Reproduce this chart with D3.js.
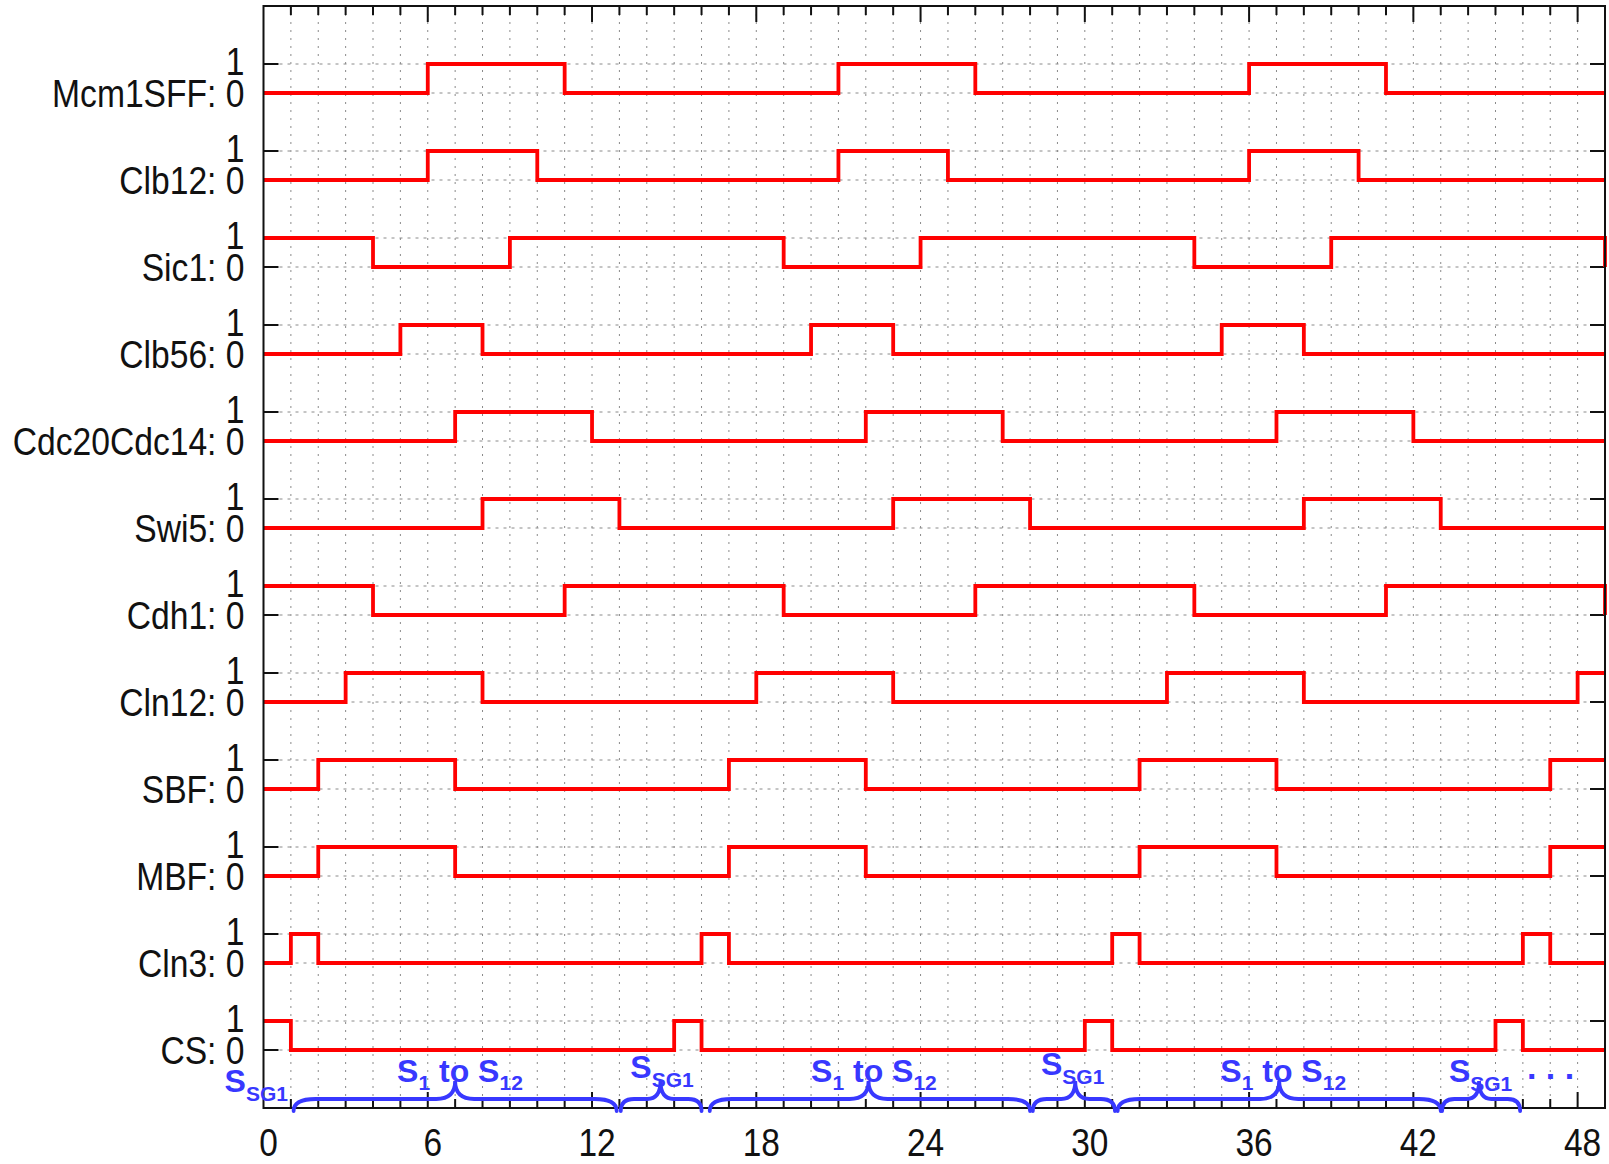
<!DOCTYPE html>
<html>
<head>
<meta charset="utf-8">
<script src="https://cdn.jsdelivr.net/npm/d3@7"></script>
<style>
  html, body { margin: 0; padding: 0; background: #fff; }
  svg { display: block; }
</style>
</head>
<body>
<svg id="chart" width="1609" height="1164"></svg>
<script>
// ---------------- data ----------------
const signalNames = ["Mcm1SFF", "Clb12", "Sic1", "Clb56", "Cdc20Cdc14", "Swi5",
                     "Cdh1", "Cln12", "SBF", "MBF", "Cln3", "CS"];
const timeSteps = d3.range(0, 50);           // t = 0 .. 49
const xTickLabels = [0, 6, 12, 18, 24, 30, 36, 42, 48];
const yTickLevels = ["0", "1"];

const Mcm1SFF = [0,0,0,0,0,0,1,1,1,1, 1,0,0,0,0,0,0,0,0,0, 0,1,1,1,1,1,0,0,0,0, 0,0,0,0,0,0,1,1,1,1, 1,0,0,0,0,0,0,0,0,0];
const Clb12   = [0,0,0,0,0,0,1,1,1,1, 0,0,0,0,0,0,0,0,0,0, 0,1,1,1,1,0,0,0,0,0, 0,0,0,0,0,0,1,1,1,1, 0,0,0,0,0,0,0,0,0,0];
const Sic1    = [1,1,1,1,0,0,0,0,0,1, 1,1,1,1,1,1,1,1,1,0, 0,0,0,0,1,1,1,1,1,1, 1,1,1,1,0,0,0,0,0,1, 1,1,1,1,1,1,1,1,1,0];
const Clb56   = [0,0,0,0,0,1,1,1,0,0, 0,0,0,0,0,0,0,0,0,0, 1,1,1,0,0,0,0,0,0,0, 0,0,0,0,0,1,1,1,0,0, 0,0,0,0,0,0,0,0,0,0];
const Cdc20Cdc14 = [0,0,0,0,0,0,0,1,1,1, 1,1,0,0,0,0,0,0,0,0, 0,0,1,1,1,1,1,0,0,0, 0,0,0,0,0,0,0,1,1,1, 1,1,0,0,0,0,0,0,0,0];
const Swi5    = [0,0,0,0,0,0,0,0,1,1, 1,1,1,0,0,0,0,0,0,0, 0,0,0,1,1,1,1,1,0,0, 0,0,0,0,0,0,0,0,1,1, 1,1,1,0,0,0,0,0,0,0];
const Cdh1    = [1,1,1,1,0,0,0,0,0,0, 0,1,1,1,1,1,1,1,1,0, 0,0,0,0,0,0,1,1,1,1, 1,1,1,1,0,0,0,0,0,0, 0,1,1,1,1,1,1,1,1,0];
const Cln12   = [0,0,0,1,1,1,1,1,0,0, 0,0,0,0,0,0,0,0,1,1, 1,1,1,0,0,0,0,0,0,0, 0,0,0,1,1,1,1,1,0,0, 0,0,0,0,0,0,0,0,1,1];
const SBF     = [0,0,1,1,1,1,1,0,0,0, 0,0,0,0,0,0,0,1,1,1, 1,1,0,0,0,0,0,0,0,0, 0,0,1,1,1,1,1,0,0,0, 0,0,0,0,0,0,0,1,1,1];
const MBF     = [0,0,1,1,1,1,1,0,0,0, 0,0,0,0,0,0,0,1,1,1, 1,1,0,0,0,0,0,0,0,0, 0,0,1,1,1,1,1,0,0,0, 0,0,0,0,0,0,0,1,1,1];
const Cln3    = [0,1,0,0,0,0,0,0,0,0, 0,0,0,0,0,0,1,0,0,0, 0,0,0,0,0,0,0,0,0,0, 0,1,0,0,0,0,0,0,0,0, 0,0,0,0,0,0,1,0,0,0];
const CS      = [1,0,0,0,0,0,0,0,0,0, 0,0,0,0,0,1,0,0,0,0, 0,0,0,0,0,0,0,0,0,0, 1,0,0,0,0,0,0,0,0,0, 0,0,0,0,0,1,0,0,0,0];
const signalValues = [Mcm1SFF, Clb12, Sic1, Clb56, Cdc20Cdc14, Swi5, Cdh1, Cln12, SBF, MBF, Cln3, CS];

// annotation braces: [start, peak, end] in time units
const braceSpans = [[1.1, 7.0, 12.9], [13.05, 14.5, 16.0], [16.3, 22.1, 28.0],
                    [28.1, 29.65, 31.1], [31.2, 37.1, 43.0], [43.05, 44.4, 45.9]];
// annotation labels: kind, left x (time units), baseline (y units)
const stateLabels = [
  {kind: "SG1", t: -1.42, v: -1.45},
  {kind: "S12", t: 4.88, v: -1.1},
  {kind: "SG1", t: 13.4, v: -0.97},
  {kind: "S12", t: 20.0, v: -1.1},
  {kind: "SG1", t: 28.4, v: -0.86},
  {kind: "S12", t: 34.95, v: -1.1},
  {kind: "SG1", t: 43.3, v: -1.1},
  {kind: "dots", t: 46.15, v: -1.0}
];

// ---------------- layout ----------------
const svg = d3.select("#chart");
const L = 263.5, R = 1605, T = 6, B = 1108;
const x = d3.scaleLinear().domain([0, 49]).range([L, R]);
const y = d3.scaleLinear().domain([-2, 36]).range([B, T]);
const nSig = signalNames.length;
const offsetOf = i => (nSig - 1 - i) * 3;

const blackFont = "'Liberation Sans', Arial, sans-serif";
const blue = "#3838ff";

// grid
const gGrid = svg.append("g");
gGrid.selectAll("line.v").data(d3.range(1, 49)).join("line")
  .attr("x1", d => x(d)).attr("x2", d => x(d))
  .attr("y1", T).attr("y2", B)
  .attr("stroke", "#8a8a8a").attr("stroke-width", 1)
  .attr("stroke-dasharray", "2,6");

const levels = [];
signalNames.forEach((n, i) => { levels.push(offsetOf(i)); levels.push(offsetOf(i) + 1); });
gGrid.selectAll("line.h").data(levels).join("line")
  .attr("x1", L).attr("x2", R)
  .attr("y1", d => y(d)).attr("y2", d => y(d))
  .attr("stroke", "#8a8a8a").attr("stroke-width", 1)
  .attr("stroke-dasharray", "3,5");

// ticks
const gTicks = svg.append("g").attr("stroke", "#111").attr("stroke-width", 2);
const minorT = d3.range(1, 49).filter(d => d % 6 !== 0);
const majorT = d3.range(6, 49, 6);
[[minorT, 9], [majorT, 16]].forEach(([arr, len]) => {
  gTicks.selectAll(null).data(arr).join("line")
    .attr("x1", d => x(d)).attr("x2", d => x(d))
    .attr("y1", T).attr("y2", T + len);
  gTicks.selectAll(null).data(arr).join("line")
    .attr("x1", d => x(d)).attr("x2", d => x(d))
    .attr("y1", B).attr("y2", B - len);
});
gTicks.selectAll(null).data(levels).join("line")
  .attr("x1", L).attr("x2", L + 15)
  .attr("y1", d => y(d)).attr("y2", d => y(d));
gTicks.selectAll(null).data(levels).join("line")
  .attr("x1", R).attr("x2", R - 15)
  .attr("y1", d => y(d)).attr("y2", d => y(d));

// signal traces
const line = d3.line().curve(d3.curveStepAfter)
  .x((d, k) => x(timeSteps[k]))
  .y(d => d);
signalValues.forEach((vals, i) => {
  const off = offsetOf(i);
  svg.append("path")
    .attr("d", line(vals.map(v => y(off + v))))
    .attr("fill", "none")
    .attr("stroke", "#ff0000")
    .attr("stroke-width", 3.8)
    .attr("stroke-linejoin", "miter");
});

// frame
svg.append("rect")
  .attr("x", L).attr("y", T).attr("width", R - L).attr("height", B - T)
  .attr("fill", "none").attr("stroke", "#111").attr("stroke-width", 2);

// y labels (narrowed horizontally like the reference)
const gY = svg.append("g").attr("font-family", blackFont).attr("font-size", 38)
  .attr("fill", "#111").attr("text-anchor", "end");
signalNames.forEach((n, i) => {
  const off = offsetOf(i);
  gY.append("text")
    .attr("transform", `translate(${L - 19},${y(off + 1) + 11}) scale(0.885,1)`)
    .text(yTickLevels[1]);
  gY.append("text")
    .attr("transform", `translate(${L - 19},${y(off) + 13.5}) scale(0.885,1)`)
    .text(n + ": " + yTickLevels[0]);
});

// x labels
const gX = svg.append("g").attr("font-family", blackFont).attr("font-size", 38)
  .attr("fill", "#111").attr("text-anchor", "middle");
gX.selectAll("text").data(xTickLabels).join("text")
  .attr("transform", d => `translate(${x(d) + 5},1156) scale(0.88,1)`)
  .text(d => d);

// braces
const yb = 1111, yf = 1099, yp = 1081;
const gBr = svg.append("g").attr("fill", "none").attr("stroke", blue)
  .attr("stroke-width", 3.8).attr("stroke-linecap", "round");
braceSpans.forEach(([a, m, b]) => {
  const x0 = x(a), xm = x(m), x1 = x(b);
  const r = Math.min(22, (xm - x0) / 3);
  const r2 = Math.min(19, (xm - x0) / 3);
  const p = d3.path();
  p.moveTo(x0, yb);
  p.quadraticCurveTo(x0, yf, x0 + r, yf);
  p.lineTo(xm - r2, yf);
  p.quadraticCurveTo(xm, yf, xm, yp);
  p.quadraticCurveTo(xm, yf, xm + r2, yf);
  p.lineTo(x1 - r, yf);
  p.quadraticCurveTo(x1, yf, x1, yb);
  gBr.append("path").attr("d", p.toString());
});

// state labels
const gS = svg.append("g").attr("font-family", "'Liberation Sans', Arial, sans-serif")
  .attr("font-weight", "bold").attr("fill", blue).attr("font-size", 32);
stateLabels.forEach(s => {
  const t = gS.append("text").attr("x", x(s.t)).attr("y", y(s.v));
  if (s.kind === "SG1") {
    t.append("tspan").text("S");
    t.append("tspan").attr("font-size", 21).attr("dy", 9).text("SG1");
  } else if (s.kind === "S12") {
    t.append("tspan").text("S");
    t.append("tspan").attr("font-size", 21).attr("dy", 8).text("1");
    t.append("tspan").attr("dy", -8).text(" to S");
    t.append("tspan").attr("font-size", 21).attr("dy", 8).text("12");
  } else {
    t.attr("font-size", 34).text(". . .");
  }
});
</script>
</body>
</html>
